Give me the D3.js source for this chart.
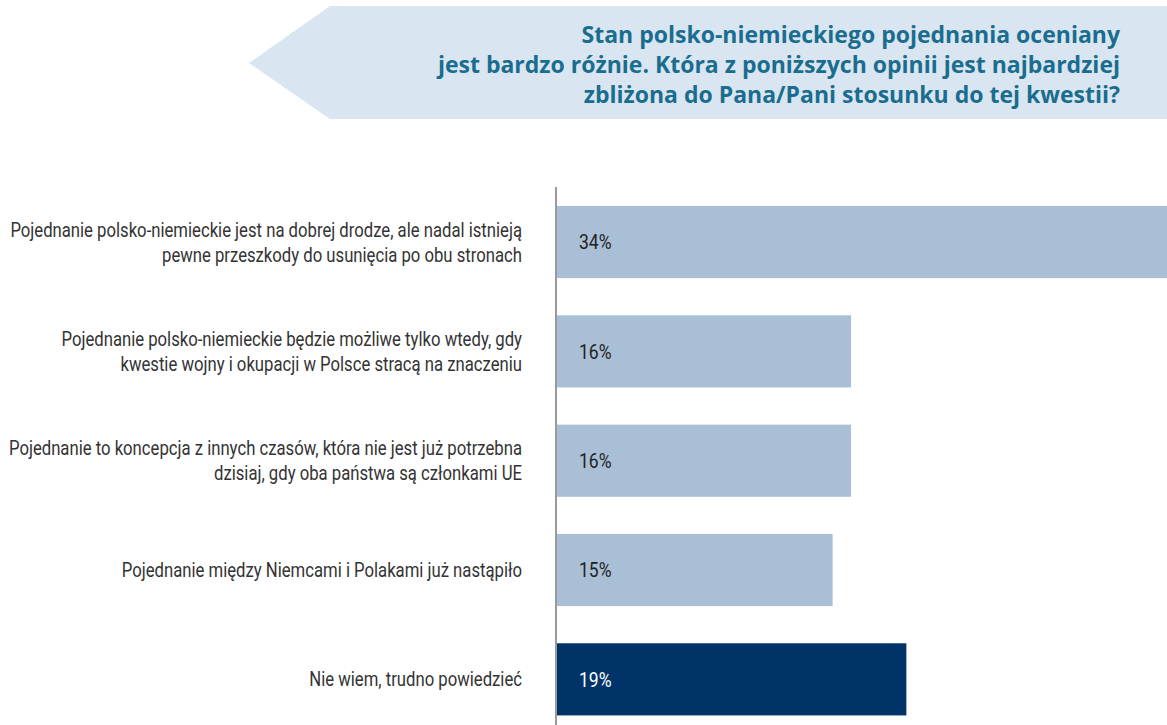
<!DOCTYPE html>
<html>
<head>
<meta charset="utf-8">
<script src="https://cdn.jsdelivr.net/npm/d3@7"></script>
<style>
  html, body { margin: 0; padding: 0; background: #fff; }
  svg { display: block; }
  .cond { font-family: Roboto, "DejaVu Sans Condensed", sans-serif; }
  .head { font-family: "Open Sans", Roboto, sans-serif; }
</style>
</head>
<body>
<svg id="chart" width="1167" height="725"></svg>
<script>
// Survey answers (each answer split into display lines)
const categories = [
  ["Pojednanie polsko-niemieckie jest na dobrej drodze, ale nadal istnieją", "pewne przeszkody do usunięcia po obu stronach"],
  ["Pojednanie polsko-niemieckie będzie możliwe tylko wtedy, gdy", "kwestie wojny i okupacji w Polsce stracą na znaczeniu"],
  ["Pojednanie to koncepcja z innych czasów, która nie jest już potrzebna", "dzisiaj, gdy oba państwa są członkami UE"],
  ["Pojednanie między Niemcami i Polakami już nastąpiło"],
  ["Nie wiem, trudno powiedzieć"]
];
const values = [34, 16, 16, 15, 19];
const highlight = [false, false, false, false, true];
const titleLines = [
  "Stan polsko-niemieckiego pojednania oceniany",
  "jest bardzo różnie. Która z poniższych opinii jest najbardziej",
  "zbliżona do Pana/Pani stosunku do tej kwestii?"
];

const W = 1167, H = 725;
const svg = d3.select("#chart");

// Horizontal squeeze to get a condensed look from the installed fonts
const squeezeBody = 0.835;
const squeezeTitle = 1.0;

// Title banner: arrow-shaped band pointing left
const banner = [[249, 63], [330, 6], [W, 6], [W, 119], [330, 119]];
svg.append("polygon")
  .attr("points", banner.map(p => p.join(",")).join(" "))
  .attr("fill", "#d9e6f1");

svg.append("text")
  .attr("class", "head")
  .attr("transform", `translate(1120,0) scale(${squeezeTitle},1)`)
  .attr("text-anchor", "end")
  .attr("fill", "#1a6d8e")
  .attr("font-weight", 700)
  .attr("font-size", 23)
  .selectAll("tspan")
  .data(titleLines)
  .join("tspan")
  .attr("x", 0)
  .attr("y", (d, i) => 43 + i * 30)
  .text(d => d);

// Scales
const x0 = 556;
const x = d3.scaleLinear().domain([0, 34]).range([x0, x0 + 627]);
const y = d3.scaleBand()
  .domain(d3.range(values.length))
  .range([187.4, 734])
  .paddingInner(0.34)
  .paddingOuter(0.17);

// Bars
svg.append("g")
  .selectAll("rect")
  .data(values)
  .join("rect")
  .attr("x", x(0) + 1)
  .attr("y", (d, i) => y(i))
  .attr("width", d => x(d) - x(0) - 1)
  .attr("height", y.bandwidth())
  .attr("fill", (d, i) => highlight[i] ? "#003468" : "#a9bfd6");

// Value labels inside the bars
svg.append("g")
  .selectAll("text")
  .data(values)
  .join("text")
  .attr("class", "cond")
  .attr("transform", (d, i) => `translate(${x(0) + 23},${y(i) + y.bandwidth() / 2}) scale(${squeezeBody},1)`)
  .attr("dy", "0.35em")
  .attr("font-size", 21)
  .attr("fill", (d, i) => highlight[i] ? "#ffffff" : "#222222")
  .text(d => d + "%");

// Category labels, right aligned next to the axis
const lineH = 25;
svg.append("g")
  .selectAll("text")
  .data(categories)
  .join("text")
  .attr("class", "cond")
  .attr("text-anchor", "end")
  .attr("font-size", 20)
  .attr("fill", "#333333")
  .attr("transform", `translate(522,0) scale(${squeezeBody},1)`)
  .each(function (lines, i) {
    const cy = y(i) + y.bandwidth() / 2;
    const top = cy - (lines.length - 1) * lineH / 2;
    d3.select(this).selectAll("tspan")
      .data(lines)
      .join("tspan")
      .attr("x", 0)
      .attr("y", (d, j) => top + j * lineH)
      .attr("dy", "0.35em")
      .text(d => d);
  });

// Vertical baseline axis
svg.append("line")
  .attr("x1", x0).attr("x2", x0)
  .attr("y1", 187).attr("y2", H)
  .attr("stroke", "#9a9a9a")
  .attr("stroke-width", 2);
</script>
</body>
</html>
